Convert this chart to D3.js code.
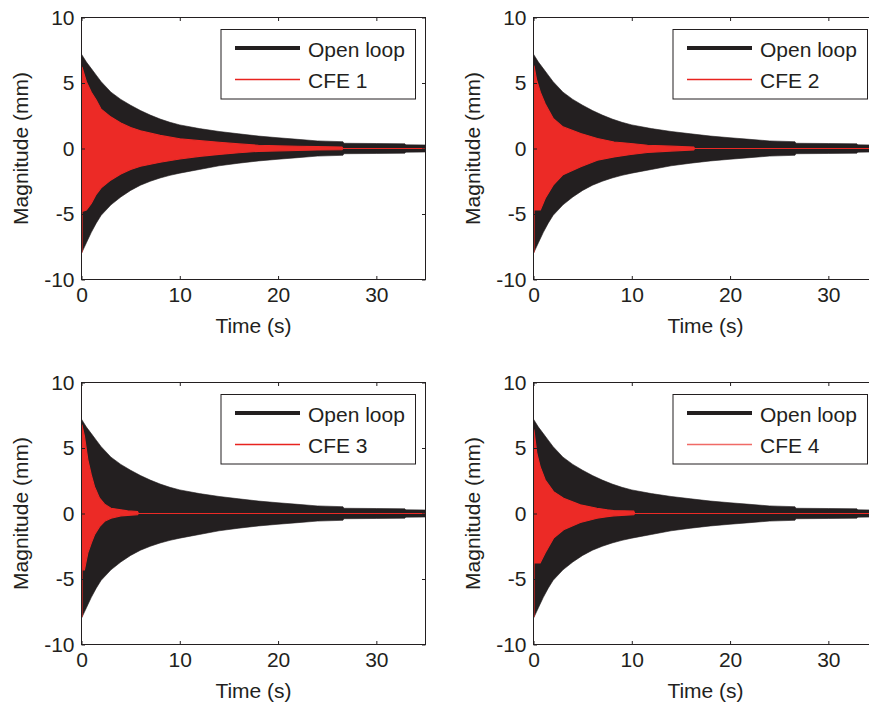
<!DOCTYPE html>
<html>
<head>
<meta charset="utf-8">
<script src="https://cdn.jsdelivr.net/npm/d3@7"></script>
<style>
  html, body { margin: 0; padding: 0; background: #ffffff; }
  svg text { font-family: "Liberation Sans", Arial, Helvetica, sans-serif; fill: #231f20; }
</style>
</head>
<body>
<svg id="chart" width="869" height="709"></svg>
<script>
// Open-loop response envelope (mm) over time (s)
const timeOpen  = [0, 0.5, 1, 1.5, 2, 3, 4, 5, 6, 7, 8, 9, 10, 12, 14, 16, 18, 20, 22, 24, 26.6, 26.7, 30, 32.9, 33, 35];
const openUpper = [7.2, 6.6, 6.1, 5.6, 5.1, 4.3, 3.75, 3.3, 2.9, 2.55, 2.25, 2.0, 1.8, 1.52, 1.3, 1.12, 0.95, 0.82, 0.7, 0.58, 0.52, 0.4, 0.38, 0.36, 0.28, 0.27];
const openLower = [-8.0, -7.2, -6.4, -5.7, -5.1, -4.3, -3.7, -3.2, -2.8, -2.5, -2.25, -2.05, -1.88, -1.6, -1.32, -1.12, -0.95, -0.82, -0.7, -0.58, -0.52, -0.4, -0.38, -0.36, -0.28, -0.27];

// Controlled responses (CFE 1..4) envelopes
const timeCfe1  = [0, 0.05, 0.06, 0.5, 1, 1.5, 2, 3, 4, 5, 6, 8, 10, 12, 14, 16, 18, 20, 22, 24, 26.5, 26.6, 35];
const cfe1Upper = [6.2, 6.2, 6.2, 5.1, 4.3, 3.7, 3.0, 2.4, 1.95, 1.6, 1.35, 1.0, 0.75, 0.6, 0.48, 0.35, 0.25, 0.2, 0.17, 0.14, 0.12, 0, 0];
const cfe1Lower = [-7.9, -7.9, -4.8, -4.7, -4.2, -3.5, -3.0, -2.4, -1.95, -1.6, -1.35, -1.05, -0.8, -0.6, -0.45, -0.32, -0.22, -0.18, -0.15, -0.12, -0.1, 0, 0];

const timeCfe2  = [0, 0.05, 0.06, 0.3, 0.7, 1.2, 2, 3, 4.8, 6.5, 8.2, 9.9, 11.6, 13.9, 16.3, 16.4, 35];
const cfe2Upper = [6.3, 6.3, 6.3, 5.3, 4.3, 3.4, 2.3, 1.65, 1.15, 0.76, 0.5, 0.38, 0.25, 0.18, 0.12, 0, 0];
const cfe2Lower = [-7.9, -7.9, -4.7, -4.7, -4.7, -3.8, -2.8, -2.0, -1.4, -0.9, -0.64, -0.46, -0.3, -0.2, -0.12, 0, 0];

const timeCfe3  = [0, 0.05, 0.06, 0.3, 0.65, 1.0, 1.33, 1.84, 2.35, 3.0, 4.0, 4.7, 5.7, 5.8, 35];
const cfe3Upper = [6.75, 6.75, 6.7, 5.9, 4.1, 2.94, 2.05, 1.17, 0.71, 0.4, 0.28, 0.2, 0.15, 0, 0];
const cfe3Lower = [-7.85, -7.85, -4.3, -4.3, -3.0, -2.26, -1.62, -1.0, -0.6, -0.36, -0.18, -0.14, -0.1, 0, 0];

const timeCfe4  = [0, 0.05, 0.06, 0.34, 0.68, 1.2, 2.04, 3.06, 4.76, 6.46, 7.5, 8.16, 10.2, 10.3, 35];
const cfe4Upper = [6.37, 6.37, 6.3, 4.6, 3.58, 2.56, 1.67, 1.17, 0.66, 0.4, 0.28, 0.23, 0.18, 0, 0];
const cfe4Lower = [-7.85, -7.85, -3.78, -3.78, -3.78, -3.0, -1.88, -1.24, -0.69, -0.36, -0.24, -0.18, -0.1, 0, 0];

const seriesNames = ["CFE 1", "CFE 2", "CFE 3", "CFE 4"];
const openLoopName = "Open loop";
const xTicks = [0, 10, 20, 30];
const yTicks = [-10, -5, 0, 5, 10];
const xLabel = "Time (s)";
const yLabel = "Magnitude (mm)";

const cfeData = [
  [timeCfe1, cfe1Upper, cfe1Lower],
  [timeCfe2, cfe2Upper, cfe2Lower],
  [timeCfe3, cfe3Upper, cfe3Lower],
  [timeCfe4, cfe4Upper, cfe4Lower]
];

// Panel placement (2 x 2 grid)
const panelPos = [
  { left: 81.5, top: 17.5 },
  { left: 533.5, top: 17.5 },
  { left: 81.5, top: 382.5 },
  { left: 533.5, top: 382.5 }
];
const plotW = 344, plotH = 262;
const ink = "#231f20";
const red = "#ec2a26";
const legendRed = ["#e8231f", "#e8231f", "#e8231f", "#f06a66"];

const svg = d3.select("#chart");
const defs = svg.append("defs");

function envelope(times, upper, lower) {
  return times.map((t, i) => ({ t, hi: upper[i], lo: lower[i] }));
}
const openEnv = envelope(timeOpen, openUpper, openLower);
const plainNumber = d => String(d);

panelPos.forEach((p, idx) => {
  const x = d3.scaleLinear().domain([0, 35]).range([0, plotW]);
  const y = d3.scaleLinear().domain([-10, 10]).range([plotH, 0]);
  const g = svg.append("g").attr("transform", `translate(${p.left},${p.top})`);

  const clipId = "clip" + idx;
  defs.append("clipPath").attr("id", clipId)
    .append("rect").attr("x", 0).attr("y", 0).attr("width", plotW).attr("height", plotH);

  const area = d3.area().x(d => x(d.t)).y0(d => y(d.lo)).y1(d => y(d.hi));
  const data = g.append("g").attr("clip-path", `url(#${clipId})`);

  // Open-loop response band
  data.append("path").datum(openEnv)
    .attr("d", area).attr("fill", ink).attr("stroke", ink).attr("stroke-width", 0.6);

  // Controlled response band
  const [ct, cu, cl] = cfeData[idx];
  data.append("path").datum(envelope(ct, cu, cl))
    .attr("d", area).attr("fill", red).attr("stroke", red).attr("stroke-width", 1.1);

  // Axes: ticks inside, mirrored on top and right
  const tk = 3.5;
  g.append("g").attr("transform", `translate(0,${plotH})`)
    .call(d3.axisBottom(x).tickValues(xTicks).tickFormat(plainNumber).tickSizeInner(-tk).tickSizeOuter(0).tickPadding(8))
    .call(a => a.select(".domain").remove());
  g.append("g")
    .call(d3.axisLeft(y).tickValues(yTicks).tickFormat(plainNumber).tickSizeInner(-tk).tickSizeOuter(0).tickPadding(7))
    .call(a => a.select(".domain").remove());
  g.append("g")
    .call(d3.axisTop(x).tickValues(xTicks).tickSizeInner(-tk).tickSizeOuter(0).tickFormat(""))
    .call(a => a.select(".domain").remove());
  g.append("g").attr("transform", `translate(${plotW},0)`)
    .call(d3.axisRight(y).tickValues(yTicks).tickSizeInner(-tk).tickSizeOuter(0).tickFormat(""))
    .call(a => a.select(".domain").remove());

  g.selectAll(".tick line").attr("stroke", ink).attr("stroke-width", 1);
  g.selectAll(".tick text").attr("font-size", 21).attr("fill", ink)
    .style("font-family", '"Liberation Sans", Arial, sans-serif');

  g.append("rect").attr("x", 0).attr("y", 0).attr("width", plotW).attr("height", plotH)
    .attr("fill", "none").attr("stroke", ink).attr("stroke-width", 1);

  // Axis titles
  g.append("text").attr("x", plotW / 2).attr("y", plotH + 53)
    .attr("text-anchor", "middle").attr("font-size", 21).text(xLabel);
  g.append("text")
    .attr("transform", `translate(${-53.3},${plotH / 2}) rotate(-90)`)
    .attr("text-anchor", "middle").attr("font-size", 21).text(yLabel);

  // Legend
  const lg = g.append("g").attr("transform", `translate(${plotW - 10 - 194.5},12)`);
  lg.append("rect").attr("x", 0).attr("y", 0).attr("width", 194.5).attr("height", 69.5)
    .attr("fill", "#ffffff").attr("stroke", ink).attr("stroke-width", 1);
  lg.append("line").attr("x1", 14).attr("x2", 79).attr("y1", 18.5).attr("y2", 18.5)
    .attr("stroke", ink).attr("stroke-width", 4);
  lg.append("line").attr("x1", 14).attr("x2", 79).attr("y1", 50).attr("y2", 50)
    .attr("stroke", legendRed[idx]).attr("stroke-width", 1.3);
  lg.append("text").attr("x", 87).attr("y", 27).attr("font-size", 21).text(openLoopName);
  lg.append("text").attr("x", 87).attr("y", 58).attr("font-size", 21).text(seriesNames[idx]);
});
</script>
</body>
</html>
